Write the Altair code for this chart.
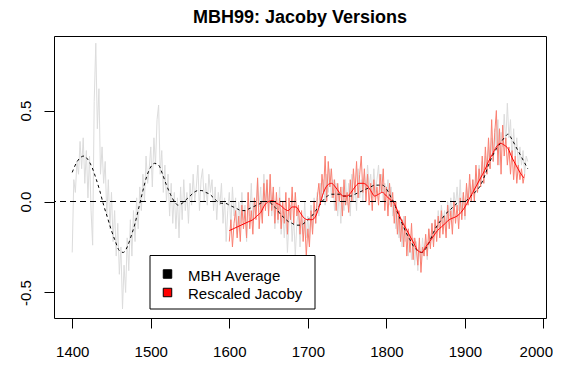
import altair as alt
import pandas as pd

# ---------------- data ----------------
title_text = "MBH99: Jacoby Versions"
legend_labels = ["MBH Average", "Rescaled Jacoby"]
legend_colors = ["black", "red"]
x_ticks = [1400, 1500, 1600, 1700, 1800, 1900, 2000]
y_ticks = [-0.5, 0.0, 0.5]

# MBH annual reconstruction, every 2 years 1400-1980
mbh_years = list(range(1400, 1981, 2))
mbh_annual = [
    -0.28, 0.12, 0.05, 0.22, 0.15,   0.33, 0.18, 0.35, 0.10, 0.28,
    0.02, 0.25, -0.05, -0.24, 0.55,  0.87, 0.40, 0.62, 0.15, 0.30,
    0.10, 0.22, -0.08, 0.12, -0.15,  0.05, -0.22, -0.05, -0.30, -0.12,
    -0.40, -0.25, -0.59, -0.35, -0.50,  -0.20, -0.38, -0.10, -0.30, -0.05,
    -0.22, 0.02, -0.15, 0.08, -0.05,  0.15, 0.00, 0.25, 0.10, 0.18,
    0.30, 0.08, 0.35, 0.20, 0.45,  0.53, 0.15, 0.28, 0.05, 0.20,
    0.00, 0.15, -0.08, 0.10, -0.12,  0.05, -0.15, 0.02, -0.20, 0.08,
    -0.10, 0.12, -0.05, 0.05, -0.12,  0.10, -0.02, 0.15, 0.00, 0.08,
    0.20, -0.05, 0.12, 0.18, 0.00,  0.10, -0.02, 0.15, 0.05, 0.12,
    -0.05, 0.08, -0.10, 0.05, -0.02,  0.10, -0.12, 0.02, -0.22, -0.05,
    0.05, -0.15, 0.08, -0.08, 0.02,  -0.18, 0.00, -0.12, 0.05, -0.10,
    -0.02, -0.22, 0.05, -0.08, 0.10,  -0.12, 0.02, -0.05, 0.12, -0.03,
    0.08, -0.10, 0.15, 0.00, 0.10,  -0.05, 0.12, -0.08, 0.05, -0.15,
    0.02, -0.12, 0.08, -0.18, -0.05,  -0.20, -0.05, -0.28, -0.10, -0.02,
    -0.22, -0.08, -0.30, -0.12, -0.05,  -0.25, -0.10, -0.18, 0.00, -0.20,
    -0.08, -0.22, -0.02, -0.15, 0.02,  -0.12, 0.05, -0.08, 0.10, 0.00,
    0.12, -0.02, 0.15, 0.05, 0.18,  0.02, 0.12, -0.05, 0.10, -0.08,
    0.05, -0.12, 0.08, -0.05, 0.12,  -0.02, 0.10, -0.08, 0.15, 0.00,
    0.08, -0.05, 0.18, 0.02, 0.12,  0.00, 0.15, 0.05, 0.20, 0.08,
    0.15, 0.02, 0.18, 0.05, 0.12,  0.20, 0.05, 0.15, 0.00, 0.10,
    0.03, 0.12, -0.02, 0.08, -0.08,  0.00, -0.15, -0.05, -0.20, -0.10,
    -0.25, -0.08, -0.22, -0.15, -0.30,  -0.18, -0.32, -0.20, -0.35, -0.22,
    -0.38, -0.25, -0.33, -0.20, -0.30,  -0.22, -0.32, -0.15, -0.25, -0.12,
    -0.22, -0.10, -0.18, -0.05, -0.15,  -0.02, -0.12, -0.05, -0.15, 0.00,
    -0.08, 0.02, -0.10, 0.05, -0.03,  0.08, -0.05, 0.12, -0.08, 0.05,
    -0.10, 0.08, -0.02, 0.10, 0.00,  0.12, 0.02, 0.15, 0.05, 0.20,
    0.08, 0.22, 0.10, 0.25, 0.15,  0.30, 0.18, 0.35, 0.22, 0.40,
    0.28, 0.45, 0.20, 0.38, 0.30,  0.48, 0.32, 0.54, 0.35, 0.45,
    0.22, 0.40, 0.25, 0.35, 0.18,  0.30, 0.20, 0.28, 0.15, 0.25,
    0.22,
]

# Rescaled Jacoby annual, every 2 years 1600-1976
jac_years = list(range(1600, 1977, 2))
jac_annual = [
    -0.22, -0.10, -0.25, -0.12, -0.05,  -0.20, -0.08, -0.22, -0.02, -0.15,
    -0.05, -0.20, 0.05, -0.15, -0.05,  -0.18, 0.02, -0.10, 0.13, -0.15,
    0.00, -0.12, 0.10, -0.05, 0.12,  -0.08, 0.15, -0.05, 0.08, -0.12,
    0.05, -0.10, 0.02, -0.15, 0.00,  -0.12, 0.05, -0.18, 0.02, -0.10,
    0.08, -0.12, 0.05, -0.08, -0.02,  -0.18, -0.05, -0.22, -0.10, -0.30,
    -0.15, -0.25, -0.05, -0.18, 0.00,  -0.12, 0.02, 0.10, -0.02, 0.15,
    0.05, 0.25, 0.00, 0.22, 0.08,  0.18, 0.02, 0.12, -0.05, 0.10,
    0.00, 0.08, -0.08, 0.12, -0.02,  0.05, -0.06, 0.12, 0.00, 0.18,
    0.05, 0.22, 0.02, 0.15, 0.25,  0.05, 0.18, 0.00, 0.15, -0.02,
    0.10, -0.05, 0.12, 0.00, 0.08,  -0.02, 0.15, 0.05, 0.18, -0.05,
    0.08, -0.08, 0.10, -0.03, 0.05,  -0.12, 0.00, -0.18, -0.05, -0.22,
    -0.10, -0.25, -0.08, -0.30, -0.15,  -0.28, -0.12, -0.32, -0.20, -0.25,
    -0.35, -0.20, -0.39, -0.25, -0.30,  -0.18, -0.30, -0.15, -0.26, -0.12,
    -0.25, -0.10, -0.22, -0.08, -0.20,  -0.05, -0.18, -0.08, -0.20, -0.02,
    -0.15, -0.05, -0.18, 0.00, -0.12,  -0.02, -0.15, 0.02, -0.10, 0.05,
    -0.08, 0.10, -0.02, 0.15, 0.00,  0.12, 0.00, 0.20, 0.05, 0.18,
    0.08, 0.25, 0.10, 0.30, 0.15,  0.35, 0.18, 0.45, 0.22, 0.38,
    0.50, 0.20, 0.40, 0.15, 0.42,  0.25, 0.35, 0.20, 0.30, 0.15,
    0.28, 0.12, 0.25, 0.10, 0.20,  0.12, 0.18, 0.10, 0.15,
]

# MBH smoothed, every 5 years 1400-1980
mbh_smooth_years = list(range(1400, 1981, 5))
mbh_smooth = [
    0.16, 0.21, 0.24, 0.25, 0.23, 0.19, 0.13, 0.06, -0.02, -0.09,
    -0.16, -0.22, -0.27, -0.28, -0.25, -0.19, -0.12, -0.03, 0.06, 0.14,
    0.19, 0.21, 0.20, 0.15, 0.09, 0.04, 0.00, -0.02, -0.01, 0.01,
    0.03, 0.05, 0.06, 0.06, 0.05, 0.04, 0.02, 0.00, -0.01, -0.01,
    -0.02, -0.03, -0.04, -0.05, -0.05, -0.04, -0.03, -0.02, -0.01, 0.00,
    0.00, -0.02, -0.04, -0.07, -0.09, -0.11, -0.12, -0.13, -0.13, -0.12,
    -0.10, -0.08, -0.05, -0.02, 0.01, 0.03, 0.04, 0.04, 0.04, 0.03,
    0.03, 0.03, 0.04, 0.05, 0.06, 0.07, 0.08, 0.09, 0.09, 0.09,
    0.07, 0.03, -0.01, -0.07, -0.12, -0.17, -0.21, -0.25, -0.27, -0.28,
    -0.26, -0.22, -0.17, -0.13, -0.10, -0.07, -0.05, -0.03, -0.01, 0.00,
    0.00, 0.02, 0.04, 0.06, 0.09, 0.14, 0.20, 0.25, 0.29, 0.32,
    0.35, 0.37, 0.34, 0.30, 0.26, 0.22, 0.18,
]

# Jacoby smoothed, every 5 years 1600-1975
jac_smooth_years = list(range(1600, 1976, 5))
jac_smooth = [
    -0.16, -0.15, -0.14, -0.13, -0.12, -0.11, -0.10, -0.08, -0.06, -0.02,
    0.00, 0.005, -0.01, -0.02, -0.04, -0.05, -0.03, -0.03, -0.06, -0.09,
    -0.10, -0.10, -0.08, -0.02, 0.05, 0.09, 0.10, 0.08, 0.05, 0.03,
    0.03, 0.05, 0.08, 0.10, 0.10, 0.09, 0.06, 0.03, 0.04, 0.05,
    0.03, 0.01, -0.01, -0.06, -0.11, -0.15, -0.19, -0.23, -0.27, -0.28,
    -0.25, -0.22, -0.19, -0.16, -0.14, -0.12, -0.10, -0.09, -0.08, -0.06,
    -0.03, 0.01, 0.05, 0.09, 0.13, 0.17, 0.22, 0.26, 0.30, 0.32,
    0.31, 0.29, 0.24, 0.20, 0.16, 0.13,
]

# ---------------- frames ----------------
df_mbh = pd.DataFrame({"year": mbh_years, "v": mbh_annual})
df_jac = pd.DataFrame({"year": jac_years, "v": jac_annual})
df_mbh_s = pd.DataFrame({"year": mbh_smooth_years, "v": mbh_smooth})
df_jac_s = pd.DataFrame({"year": jac_smooth_years, "v": jac_smooth})
one = pd.DataFrame({"k": [0]})

FONT = "Liberation Sans"
W, H = 492, 282

xs = alt.Scale(domain=[1376.8, 2003.2], nice=False, zero=False)
ys = alt.Scale(domain=[-0.6403, 0.9097], nice=False, zero=False)

x_axis = alt.Axis(values=x_ticks, title=None, grid=False, domain=False,
                  tickSize=10, tickColor="black", tickWidth=1,
                  labelFont=FONT, labelFontSize=15, labelColor="black",
                  labelPadding=28, labelBaseline="alphabetic",
                  labelAlign={"condition": {"test": "datum.value == 2000", "value": "right"},
                              "value": "center"},
                  labelOffset={"condition": {"test": "datum.value == 2000", "value": 9},
                               "value": 0},
                  labelFlush=False, labelOverlap=False, labelBound=False, format="d")
y_axis = alt.Axis(values=y_ticks, title=None, grid=False, domain=False,
                  tickSize=10, tickColor="black", tickWidth=1,
                  labelFont=FONT, labelFontSize=15, labelColor="black",
                  labelAngle=270, labelAlign="center", labelBaseline="alphabetic",
                  labelPadding=14, labelFlush=False, labelOverlap=False,
                  labelExpr="datum.value < 0 ? '-' + format(-datum.value, '.1f') : format(datum.value, '.1f')")

X = alt.X("year:Q", scale=xs, axis=x_axis)
Y = alt.Y("v:Q", scale=ys, axis=y_axis)

grey = alt.Chart(df_mbh).mark_line(color="#dcdcdc", strokeWidth=1).encode(x=X, y=Y)
salmon = alt.Chart(df_jac).mark_line(color="salmon", strokeWidth=1).encode(x=X, y=Y)
black_s = alt.Chart(df_mbh_s).mark_line(color="black", strokeWidth=1, strokeDash=[3, 3],
                                        interpolate="monotone").encode(x=X, y=Y)
red_s = alt.Chart(df_jac_s).mark_line(color="red", strokeWidth=1,
                                      interpolate="monotone").encode(x=X, y=Y)
zero = alt.Chart(one).mark_rule(color="black", strokeWidth=1, strokeDash=[6, 4]).encode(
    y=alt.Y(datum=0, scale=ys, axis=y_axis)
)

title = alt.Chart(one).mark_text(text=title_text, font=FONT, fontSize=18,
                                 fontWeight="bold", color="black",
                                 align="center", baseline="middle").encode(
    x=alt.value(W / 2), y=alt.value(-18)
)

legend_box = alt.Chart(one).mark_rect(fill="white", stroke="black", strokeWidth=1).encode(
    x=alt.value(96), x2=alt.value(261), y=alt.value(219.5), y2=alt.value(273)
)
legend_layers = [legend_box]
for i, (lab, col) in enumerate(zip(legend_labels, legend_colors)):
    legend_layers.append(
        alt.Chart(one).mark_square(size=72, filled=True, fill=col, stroke="black",
                                   strokeWidth=1, opacity=1).encode(
            x=alt.value(113.5), y=alt.value(238 + i * 18.5)
        )
    )
    legend_layers.append(
        alt.Chart(one).mark_text(text=lab, font=FONT, fontSize=15, color="black",
                                 align="left", baseline="alphabetic").encode(
            x=alt.value(134), y=alt.value(244.5 + i * 18.5)
        )
    )

chart = alt.layer(grey, salmon, black_s, red_s, zero, title, *legend_layers).properties(
    width=W, height=H,
    autosize=alt.AutoSizeParams(type="none"),
    padding={"left": 46, "top": 28, "right": 7, "bottom": 40},
    background="white",
).configure_view(stroke="black", strokeWidth=1)

chart.save("out.html", embed_options={"renderer": "svg", "actions": False})
